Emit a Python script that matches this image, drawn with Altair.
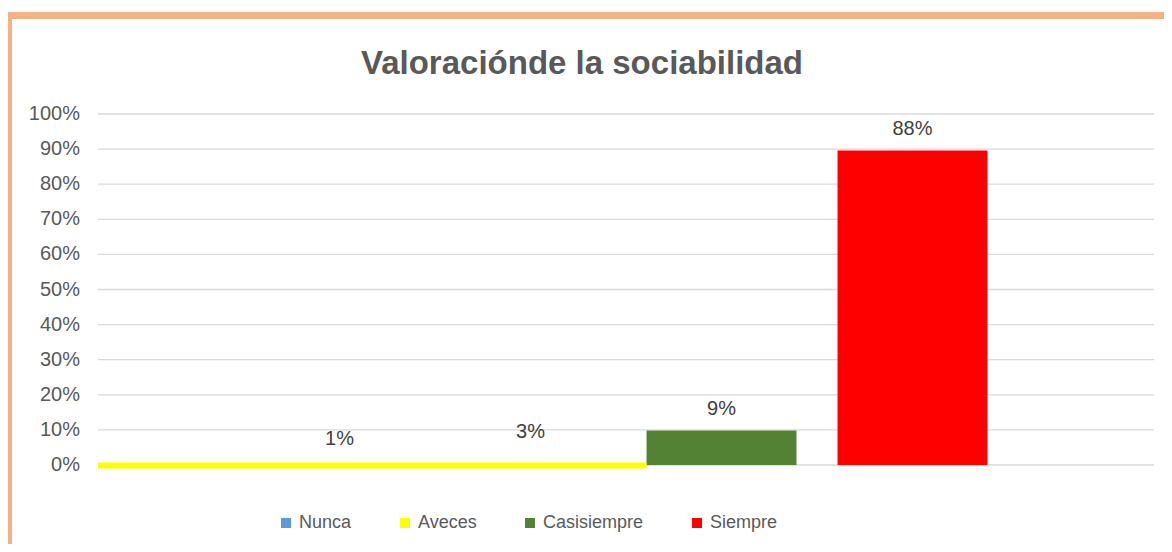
import altair as alt
import pandas as pd

# ---- data ----
categorias = ["Nunca", "Aveces", "Casisiempre", "Siempre"]
valores = [0.01, 0.03, 0.098, 0.896]
etiquetas = ["1%", "3%", "9%", "88%"]
colores = ["#5B9BD5", "#FFFF00", "#548235", "#FF0000"]
visibles = ["Casisiempre", "Siempre"]
titulo = "Valoraciónde la sociabilidad"

# yellow strip drawn along the baseline in the reference (ends where Casisiempre starts)
franja_hasta = ["Casisiempre"]
franja_sup = [0.007]
franja_inf = [-0.010]

# y axis ticks and their labels
ticks_y = [0.0, 0.1, 0.2, 0.3, 0.4, 0.5, 0.6, 0.7, 0.8, 0.9, 1.0]
ticks_txt = ["0%", "10%", "20%", "30%", "40%", "50%", "60%", "70%", "80%", "90%", "100%"]

df = pd.DataFrame({"cat": categorias, "valor": valores, "etiqueta": etiquetas})
df_franja = pd.DataFrame({"cat": franja_hasta, "valor": franja_sup, "inf": franja_inf})
df_grid = pd.DataFrame({"valor": ticks_y, "txt": ticks_txt})

FONT = "Liberation Sans"

xscale = alt.Scale(domain=categorias, paddingInner=0.215, paddingOuter=0.872)
yscale = alt.Scale(domain=[0, 1], nice=False)

x = alt.X("cat:N", scale=xscale, axis=None)
y = alt.Y("valor:Q", scale=yscale, axis=None)

# horizontal gridlines and y-axis labels from the tick lists
grid = alt.Chart(df_grid).mark_rule(color="#d9d9d9", strokeWidth=1.3).encode(y=y)
grid_txt = alt.Chart(df_grid).mark_text(align="right", baseline="middle", fontSize=20,
                                        font=FONT, color="#595959").encode(
    x=alt.value(-18), y=y, text="txt:N")

bars = alt.Chart(df).transform_filter(
    alt.FieldOneOfPredicate(field="cat", oneOf=visibles)
).mark_bar().encode(
    x=x, y=y,
    color=alt.Color("cat:N", scale=alt.Scale(domain=categorias, range=colores),
                    legend=alt.Legend(title=None, orient="none", legendX=179, legendY=400,
                                      direction="horizontal", columns=4,
                                      symbolType="square", symbolSize=100,
                                      symbolStrokeWidth=0, labelFont=FONT,
                                      labelFontSize=18, labelColor="#595959",
                                      columnPadding=44, labelOffset=4, padding=0)),
)

franja = alt.Chart(df_franja).mark_rect(color="#FFFF00").encode(
    x=alt.X("cat:N", scale=xscale, bandPosition=0, axis=None),
    x2=alt.value(0),
    y=y,
    y2="inf",
)

texto = alt.Chart(df).mark_text(dy=-22, fontSize=20, font=FONT, color="#404040",
                                baseline="middle").encode(
    x=x, y=y, text="etiqueta:N")

marco = pd.DataFrame({"k": [0]})
borde_izq = alt.Chart(marco).mark_rule(color="#F4B183", strokeWidth=7).encode(
    x=alt.value(-89.5), y=alt.value(-102), y2=alt.value(440))
borde_sup = alt.Chart(marco).mark_rule(color="#F4B183", strokeWidth=7).encode(
    x=alt.value(-93), x2=alt.value(1080), y=alt.value(-98.5))

chart = alt.layer(grid, grid_txt, bars, franja, texto, borde_izq, borde_sup).properties(
    width=1056, height=351,
    autosize=alt.AutoSizeParams(type="none"),
    padding={"left": 90, "top": 106, "right": 10, "bottom": 79},
    title=alt.TitleParams(titulo, anchor="middle", frame="group", dx=-44, dy=72,
                          fontSize=33, font=FONT, fontWeight="bold", color="#595959",
                          offset=0),
).configure(background="white").configure_view(stroke=None)

chart.save("out.html", embed_options={"renderer": "svg", "actions": False})
